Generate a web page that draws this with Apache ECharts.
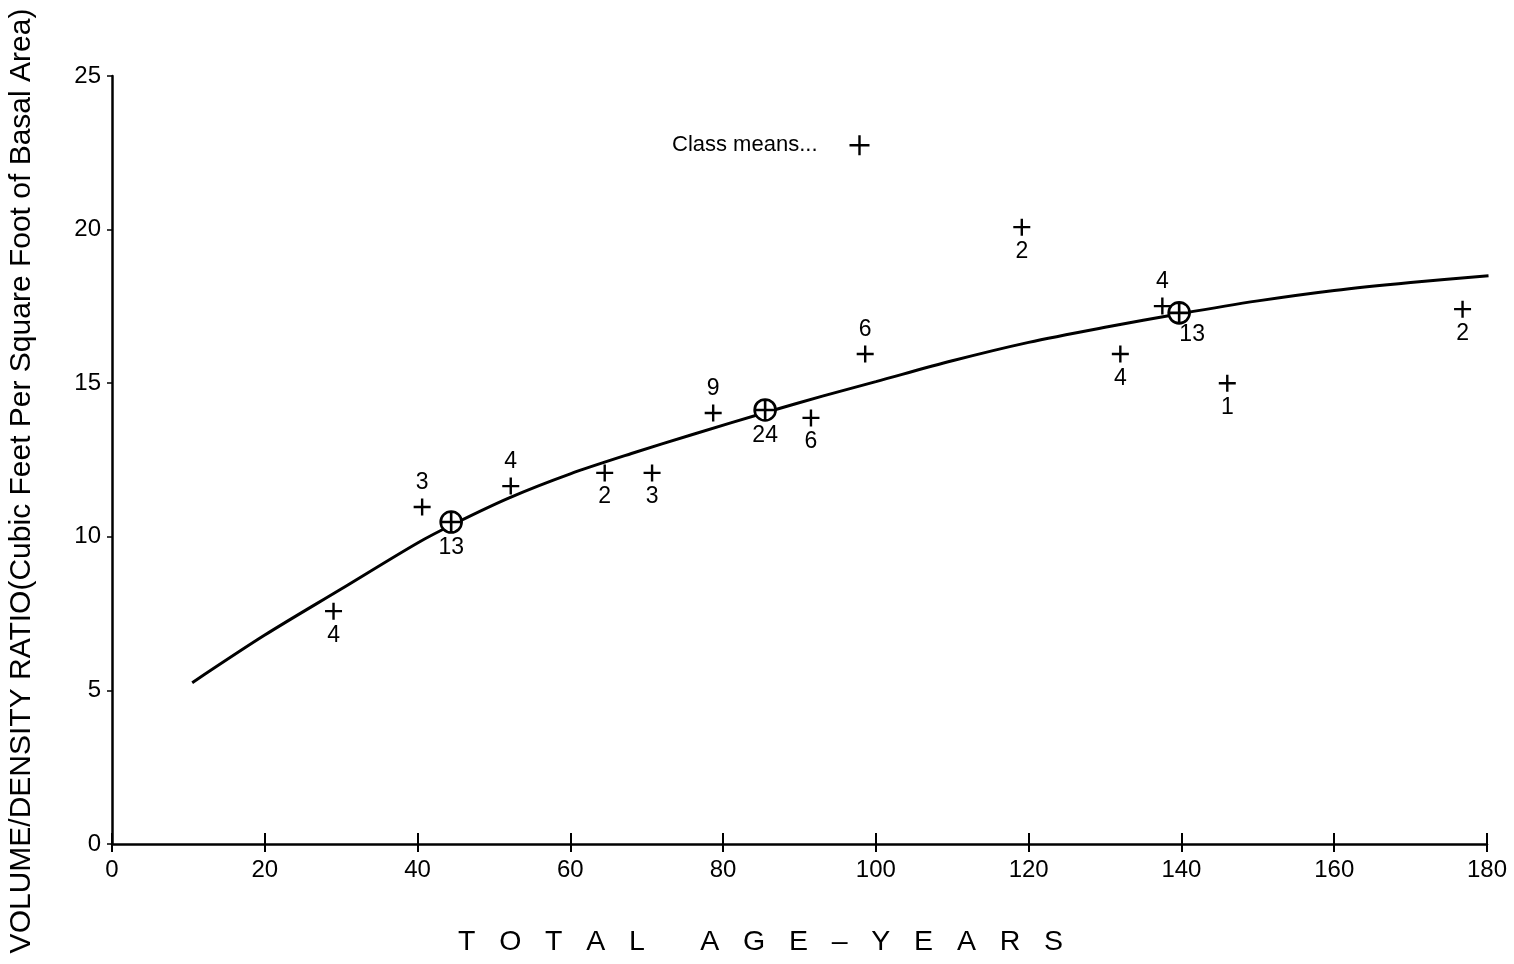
<!DOCTYPE html>
<html>
<head>
<meta charset="utf-8">
<script src="https://cdn.jsdelivr.net/npm/echarts@6/dist/echarts.min.js"></script>
<style>
html,body{margin:0;padding:0;background:#fff;}
#chart{width:1514px;height:964px;}
</style>
</head>
<body>
<div id="chart"></div>
<script>
// ---- data ----
var classAge = [29, 40.6, 52.2, 64.5, 70.7, 78.7, 91.5, 98.6, 119.1, 132, 137.5, 146, 176.8];
var classVal = [7.58, 10.97, 11.65, 12.08, 12.08, 14.03, 13.87, 15.95, 20.08, 15.95, 17.51, 15.0, 17.41];
var classN   = [4, 3, 4, 2, 3, 9, 6, 6, 2, 4, 4, 1, 2];
var classLabelSide = ['bottom','top','top','bottom','bottom','top','bottom','top','bottom','bottom','top','bottom','bottom'];

var groupAge = [44.4, 85.5, 139.7];
var groupVal = [10.48, 14.13, 17.29];
var groupN   = [13, 24, 13];

var curveAge = [10.5, 20, 30, 40, 45, 52, 60, 68, 76, 86, 93, 100, 110, 120, 130, 140, 150, 160, 170, 180.2];
var curveVal = [5.25, 6.8, 8.3, 9.8, 10.45, 11.27, 12.05, 12.71, 13.33, 14.08, 14.58, 15.05, 15.73, 16.33, 16.82, 17.27, 17.68, 18.02, 18.28, 18.5];

var xTicks = [0, 20, 40, 60, 80, 100, 120, 140, 160, 180];
var yTicks = [0, 5, 10, 15, 20, 25];

var xTitle = 'T   O   T   A   L       A   G   E   \u2013   Y   E   A   R   S';
var yTitle = 'VOLUME/DENSITY RATIO(Cubic Feet Per Square Foot of Basal Area)';
var legendName = 'Class means...';

// ---- chart ----
var FONT = 'Liberation Sans';
var plusPath = 'path://M0,10 L20,10 M10,0 L10,20';
var circPlusPath = 'path://M0,10 A10,10 0 1,1 20,10 A10,10 0 1,1 0,10 Z M10,0 L10,20 M0,10 L20,10';

var chart = echarts.init(document.getElementById('chart'), null, {renderer: 'canvas'});

var classData = classAge.map(function (a, i) {
  return {
    value: [a, classVal[i], classN[i]],
    label: {position: classLabelSide[i]}
  };
});
var groupData = groupAge.map(function (a, i) {
  var lbl = {position: 'bottom'};
  if (i === 2) { lbl.offset = [13, -3]; }
  return {value: [a, groupVal[i], groupN[i]], label: lbl};
});
var curveData = curveAge.map(function (a, i) { return [a, curveVal[i]]; });

var option = {
  animation: false,
  backgroundColor: '#ffffff',
  textStyle: {fontFamily: FONT, color: '#000'},
  grid: {left: 112, right: 27, top: 76, bottom: 120, containLabel: false},
  legend: {
    data: [legendName],
    left: 667, top: 129,
    align: 'right',
    itemWidth: 20, itemHeight: 20,
    icon: plusPath,
    itemStyle: {color: 'transparent', borderColor: '#000', borderWidth: 2.4, opacity: 1},
    textStyle: {fontFamily: FONT, fontSize: 22, color: '#000', padding: [0, 27, 0, 0]},
    selectedMode: false
  },
  xAxis: [{
    type: 'value', min: 0, max: 180, interval: 20,
    axisLine: {show: true, lineStyle: {color: '#000', width: 2.5}},
    axisTick: {show: true, inside: true, length: 11, lineStyle: {color: '#000', width: 2}},
    axisLabel: {fontFamily: FONT, fontSize: 24, color: '#000', margin: 14,
      formatter: function (v) { return xTicks.indexOf(v) >= 0 ? String(v) : ''; }},
    splitLine: {show: false}
  }, {
    type: 'value', min: 0, max: 180, interval: 20, position: 'bottom', offset: 0,
    axisLine: {show: false},
    axisTick: {show: true, inside: false, length: 8, lineStyle: {color: '#000', width: 2}},
    axisLabel: {show: false},
    splitLine: {show: false}
  }],
  yAxis: {
    type: 'value', min: 0, max: 25, interval: 5,
    axisLine: {show: true, lineStyle: {color: '#000', width: 2.5}},
    axisTick: {show: true, inside: false, length: 5, lineStyle: {color: '#000', width: 1.5}},
    axisLabel: {fontFamily: FONT, fontSize: 24, color: '#000', margin: 11,
      formatter: function (v) { return yTicks.indexOf(v) >= 0 ? String(v) : ''; }},
    splitLine: {show: false}
  },
  graphic: [{
    type: 'text',
    left: 458, top: 928,
    style: {text: xTitle, font: '28.5px "Liberation Sans"', fill: '#000'}
  }, {
    type: 'text',
    x: 22, y: 481,
    rotation: Math.PI / 2,
    style: {text: yTitle, font: '30px "Liberation Sans"', fill: '#000', align: 'center', verticalAlign: 'middle'}
  }],
  series: [{
    name: 'Fitted curve',
    type: 'line',
    data: curveData,
    smooth: 0.3,
    showSymbol: false,
    lineStyle: {color: '#000', width: 3},
    z: 2
  }, {
    name: legendName,
    type: 'scatter',
    data: classData,
    symbol: plusPath,
    symbolSize: 17,
    itemStyle: {color: 'transparent', borderColor: '#000', borderWidth: 2.4, opacity: 1},
    label: {show: true, fontFamily: FONT, fontSize: 23, color: '#000', distance: 3,
      formatter: function (p) { return String(p.value[2]); }},
    z: 3
  }, {
    name: 'Group means',
    type: 'scatter',
    data: groupData,
    symbol: circPlusPath,
    symbolSize: 21,
    itemStyle: {color: '#fff', borderColor: '#000', borderWidth: 2.6, opacity: 1},
    label: {show: true, fontFamily: FONT, fontSize: 23, color: '#000', distance: 2,
      formatter: function (p) { return String(p.value[2]); }},
    z: 4
  }]
};
chart.setOption(option);
</script>
</body>
</html>
